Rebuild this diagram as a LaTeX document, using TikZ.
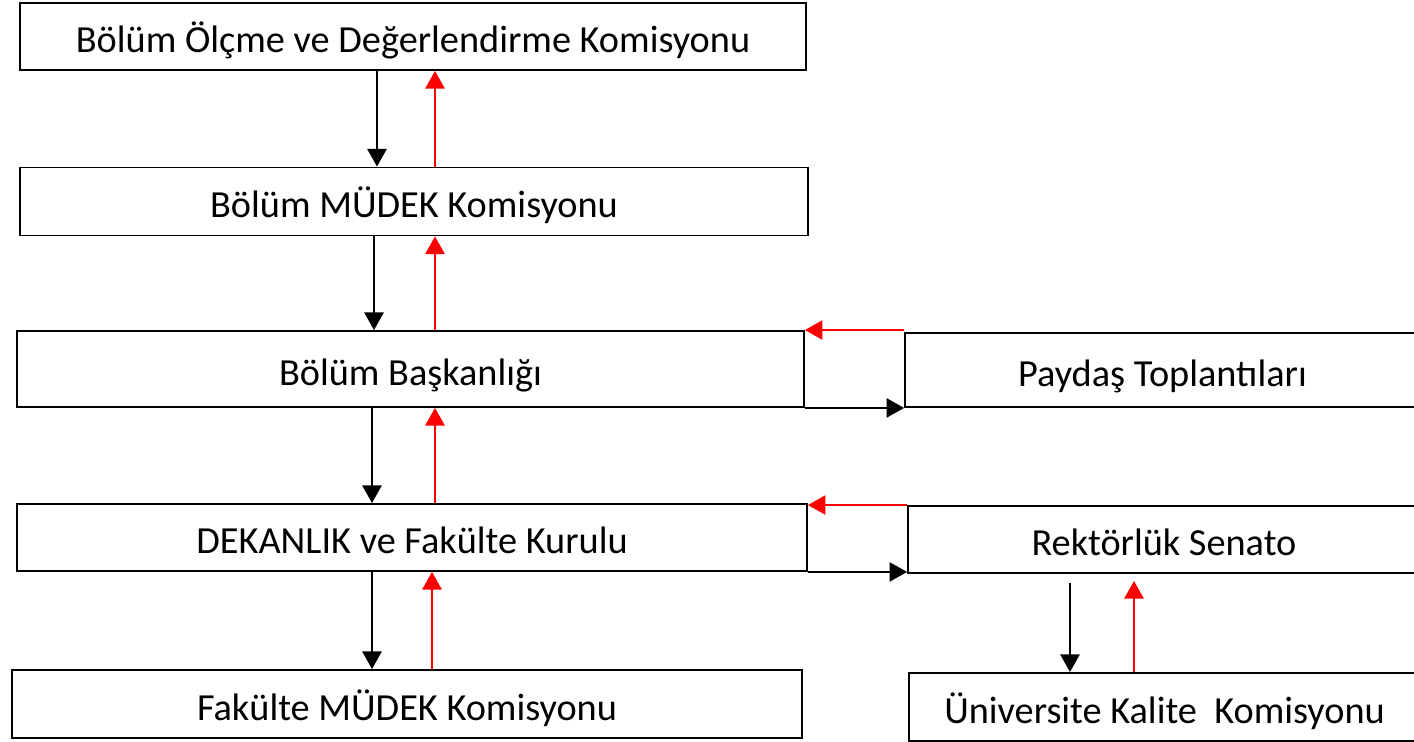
\documentclass[tikz,border=0pt]{standalone}
\usepackage{fontspec}
\setmainfont{Carlito}
\usetikzlibrary{arrows.meta}

\begin{document}
\begin{tikzpicture}[x=0.02cm,y=-0.02cm,>={Triangle[length=10pt,width=11pt]},
  box/.style={draw, line width=1.1pt, inner sep=0pt, text height=19.5pt, text depth=0.8pt,
    font=\fontsize{21.8}{26}\selectfont},
  down/.style={->, line width=0.9pt, black},
  back/.style={->, line width=0.9pt, red}]
  \useasboundingbox (0,0) rectangle (1414,742);

  % left column
  \node[box, minimum width=15.72cm, minimum height=1.34cm] (olcme) at (413,36.5) {Bölüm Ölçme ve Değerlendirme Komisyonu};
  \node[box, minimum width=15.78cm, minimum height=1.36cm] (mudek) at (414,201.5) {Bölüm MÜDEK Komisyonu};
  \node[box, minimum width=15.74cm, minimum height=1.52cm] (baskan) at (410.5,369) {Bölüm Başkanlığı};
  \node[box, minimum width=15.80cm, minimum height=1.34cm] (dekan) at (412,537.5) {DEKANLIK ve Fakülte Kurulu};
  \node[box, minimum width=15.80cm, minimum height=1.36cm] (fakmudek) at (407,704) {Fakülte MÜDEK Komisyonu};

  % right column
  \node[box, minimum width=10.30cm, minimum height=1.48cm] (paydas) at (1162.5,370) {Paydaş Toplantıları};
  \node[box, minimum width=10.24cm, minimum height=1.34cm] (senato) at (1164,539.5) {Rektörlük Senato};
  \node[box, minimum width=10.22cm, minimum height=1.36cm] (kalite) at (1164.5,707) {Üniversite Kalite~~Komisyonu};

  % arrow columns
  \coordinate (d1) at (377,0);
  \coordinate (d2) at (374,0);
  \coordinate (d3) at (372,0);
  \coordinate (u1) at (435,0);
  \coordinate (u4) at (432,0);
  \coordinate (d5) at (1070,0);
  \coordinate (u5) at (1134,0);

  \draw[down] (d1 |- olcme.south) -- (d1 |- mudek.north);
  \draw[back] (u1 |- mudek.north) -- (u1 |- olcme.south);
  \draw[down] (d2 |- mudek.south) -- (d2 |- baskan.north);
  \draw[back] (u1 |- baskan.north) -- (u1 |- mudek.south);
  \draw[down] (d3 |- baskan.south) -- (d3 |- dekan.north);
  \draw[back] (u1 |- dekan.north) -- (u1 |- baskan.south);
  \draw[down] (d3 |- dekan.south) -- (d3 |- fakmudek.north);
  \draw[back] (u4 |- fakmudek.north) -- (u4 |- dekan.south);

  \draw[back] (paydas.west |- baskan.north east) -- (baskan.north east);
  \draw[down] (baskan.south east) -- (paydas.south west);
  \draw[back] (senato.north west) -- (senato.north west -| dekan.east);
  \draw[down] (dekan.south east) -- (senato.west |- dekan.south east);

  \draw[down] ([yshift=-5]d5 |- senato.south) -- (d5 |- kalite.north);
  \draw[back] (u5 |- kalite.north) -- ([yshift=-4]u5 |- senato.south);
\end{tikzpicture}
\end{document}
